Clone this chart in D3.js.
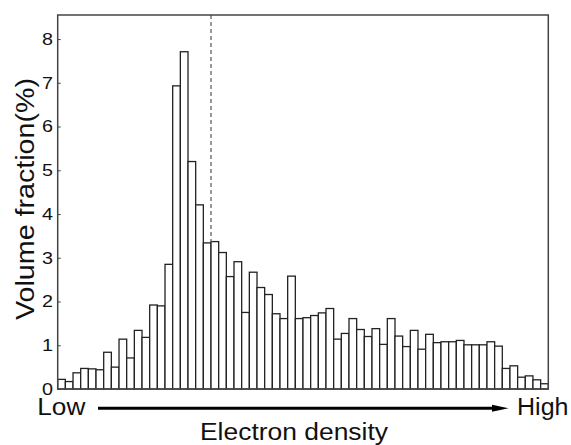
<!DOCTYPE html>
<html>
<head>
<meta charset="utf-8">
<script src="https://cdn.jsdelivr.net/npm/d3@7"></script>
<style>
  body { margin: 0; background: #fff; }
  text { font-family: "Liberation Sans", Arial, sans-serif; fill: #111; }
</style>
</head>
<body>
<svg id="chart" width="571" height="445"></svg>
<script>
// bar heights (volume fraction, %), low -> high electron density
var fractions = [
    0.22, 0.17, 0.37, 0.47, 0.46, 0.44, 0.84, 0.50, 1.14, 0.71,
    1.34, 1.18, 1.92, 1.90, 2.85, 6.93, 7.71, 5.20, 4.21, 3.34,
    3.37, 3.12, 2.57, 2.91, 1.75, 2.67, 2.32, 2.16, 1.72, 1.61,
    2.58, 1.61, 1.63, 1.68, 1.74, 1.84, 1.14, 1.27, 1.61, 1.36,
    1.20, 1.38, 1.02, 1.61, 1.21, 0.97, 1.34, 0.91, 1.25, 1.06,
    1.08, 1.08, 1.11, 1.01, 1.01, 1.01, 1.08, 0.98, 0.47, 0.53,
    0.27, 0.30, 0.21, 0.12
];
var yTicks = [0, 1, 2, 3, 4, 5, 6, 7, 8];
var dashedAt = 20; // bin boundary marked by dashed line

var svg = d3.select("#chart");

// plot box (note: "top" is reserved on window, so use other names)
var plotLeft = 57.7, plotRight = 548.3, plotTop = 15, plotBottom = 389;

var x = d3.scaleLinear().domain([0, fractions.length]).range([plotLeft, plotRight]);
var y = d3.scaleLinear().domain([0, 8.55]).range([plotBottom, plotTop]);

// bars
svg.append("g")
    .selectAll("rect")
    .data(fractions)
    .enter()
    .append("rect")
    .attr("x", function(d, i) { return x(i); })
    .attr("y", function(d) { return y(d); })
    .attr("width", function(d, i) { return x(i + 1) - x(i); })
    .attr("height", function(d) { return y(0) - y(d); })
    .attr("fill", "#fff")
    .attr("stroke", "#222")
    .attr("stroke-width", 1.3);

// dashed marker line, from top down to the bars
var dashTop = Math.max(fractions[dashedAt - 1], fractions[dashedAt]);
svg.append("line")
    .attr("x1", x(dashedAt)).attr("x2", x(dashedAt))
    .attr("y1", plotTop).attr("y2", y(dashTop))
    .attr("stroke", "#777")
    .attr("stroke-width", 1.5)
    .attr("stroke-dasharray", "4,3");

// frame
svg.append("rect")
    .attr("x", plotLeft).attr("y", plotTop)
    .attr("width", plotRight - plotLeft).attr("height", plotBottom - plotTop)
    .attr("fill", "none")
    .attr("stroke", "#444")
    .attr("stroke-width", 1.5);

// y axis with small inward ticks
var yAxis = svg.append("g")
    .attr("transform", "translate(" + plotLeft + ",0)")
    .call(d3.axisRight(y).tickValues(yTicks).tickSize(3).tickFormat(""));
yAxis.select(".domain").remove();
yAxis.selectAll("line").attr("stroke", "#444");

svg.append("g")
    .selectAll("text")
    .data(yTicks)
    .enter()
    .append("text")
    .attr("x", 53)
    .attr("y", function(d) { return y(d); })
    .attr("dy", "0.36em")
    .attr("text-anchor", "end")
    .attr("font-size", 16.5)
    .attr("textLength", 11)
    .attr("lengthAdjust", "spacingAndGlyphs")
    .text(function(d) { return d; });

// y label
svg.append("text")
    .attr("transform", "translate(34,199) rotate(-90)")
    .attr("text-anchor", "middle")
    .attr("font-size", 25)
    .attr("textLength", 242)
    .attr("lengthAdjust", "spacingAndGlyphs")
    .text("Volume fraction(%)");

// low -> high arrow
svg.append("text")
    .attr("x", 37.3).attr("y", 415)
    .attr("font-size", 23)
    .attr("textLength", 48)
    .attr("lengthAdjust", "spacingAndGlyphs")
    .text("Low");

svg.append("line")
    .attr("x1", 98).attr("x2", 494)
    .attr("y1", 408.3).attr("y2", 408.3)
    .attr("stroke", "#000")
    .attr("stroke-width", 3);

svg.append("path")
    .attr("d", "M492,404.8 L508.5,408.3 L492,411.8 Z")
    .attr("fill", "#000");

svg.append("text")
    .attr("x", 517).attr("y", 415)
    .attr("font-size", 23)
    .attr("textLength", 51.5)
    .attr("lengthAdjust", "spacingAndGlyphs")
    .text("High");

svg.append("text")
    .attr("x", 200).attr("y", 440)
    .attr("font-size", 23)
    .attr("textLength", 188)
    .attr("lengthAdjust", "spacingAndGlyphs")
    .text("Electron density");
</script>
</body>
</html>
